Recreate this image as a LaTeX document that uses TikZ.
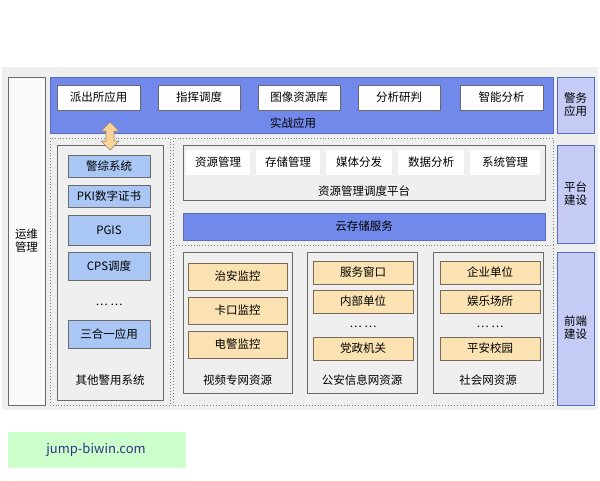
\documentclass[tikz,border=0pt]{standalone}
\usepackage{fontspec}
\setmainfont{Noto Sans CJK SC}
\definecolor{bgg}{HTML}{EFEFEF}
\definecolor{bandb}{HTML}{7089EA}
\definecolor{lpur}{HTML}{C5CBF5}
\definecolor{lblue}{HTML}{A9C6F5}
\definecolor{orf}{HTML}{FBE2B2}
\definecolor{orb}{HTML}{7A6A55}
\definecolor{grb}{HTML}{6A6A6A}
\tikzset{x=1pt,y=-1pt,
 bx/.style={draw=grb,line width=0.6pt},
 wbox/.style={bx,fill=white},
 blbox/.style={draw=grb,line width=0.6pt,fill=lblue},
 orbox/.style={draw=orb,line width=0.6pt,fill=orf},
 side/.style={draw=bandb!80!black,line width=0.6pt,fill=lpur},
 dotreg/.style={draw=gray,dotted,line width=0.9pt},
 t/.style={font=\fontsize{11.5}{13}\selectfont,inner sep=0pt}}
\newcommand{\bxn}[6]{\draw[#1] (#2,#3) rectangle (#4,#5); \node[t] at ({(#2+#4)/2},{(#3+#5)/2}) {#6};}
\begin{document}
\begin{tikzpicture}
\useasboundingbox (0,0) rectangle (600,480);
\fill[white] (0,0) rectangle (600,480);
\fill[bgg] (2,67) rectangle (598,410);
% ops
\draw[wbox,fill=white!70!bgg] (8,77) rectangle (45,405);
\node[t,align=center] (ops) at (26.5,241) {运维\\管理};
% top band
\draw[draw=bandb!80!black,fill=bandb,line width=0.6pt] (50,77) rectangle (553,133);
\bxn{wbox}{57}{85}{140}{110}{派出所应用}
\bxn{wbox}{158}{85}{240}{110}{指挥调度}
\bxn{wbox}{258}{85}{340}{110}{图像资源库}
\bxn{wbox}{358}{85}{440}{110}{分析研判}
\bxn{wbox}{460}{85}{543}{110}{智能分析}
\node[t] at (293,123) {实战应用};
% side
\draw[side] (557,77) rectangle (594,133);
\node[t,align=center] at (575.5,105) {警务\\应用};
\draw[side] (557,145) rectangle (594,243);
\node[t,align=center] at (575.5,194) {平台\\建设};
\draw[side] (557,252) rectangle (594,405);
\node[t,align=center] at (575.5,328) {前端\\建设};
% dotted regions
\draw[dotreg] (50,138) rectangle (170,405);
\draw[dotreg] (173,138) rectangle (553,245);
\draw[dotreg] (173,245) rectangle (553,405);
% other police
\draw[bx,fill=bgg] (57,145) rectangle (163,400);
\bxn{blbox}{68}{155}{150}{177}{警综系统}
\bxn{blbox}{68}{185}{150}{207}{PKI数字证书}
\bxn{blbox}{68}{215}{150}{245}{PGIS}
\bxn{blbox}{68}{252}{150}{280}{CPS调度}
\node[t] at (109,305) {… …};
\bxn{blbox}{68}{320}{150}{348}{三合一应用}
\node[t] at (110,380) {其他警用系统};
% arrow
\draw[draw=orb!80,fill=orf!85!orange,line width=0.7pt,line join=round]
 (110,122) -- (119,131) -- (114,131) -- (114,141) -- (119,141) -- (110,150) -- (101,141) -- (106,141) -- (106,131) -- (101,131) -- cycle;
% platform
\draw[bx,fill=bgg] (183,145) rectangle (545,200);
\foreach \a/\b/\s in {186/250/资源管理,256/320/存储管理,326/392/媒体分发,398/464/数据分析,470/540/系统管理}{
 \fill[white] (\a,150) rectangle (\b,175); \node[t] at ({(\a+\b)/2},162.5) {\s};}
\node[t] at (364,191) {资源管理调度平台};
\draw[draw=bandb!80!black,fill=bandb,line width=0.6pt] (183,213) rectangle (545,240);
\node[t] at (364,226.5) {云存储服务};
% front
\draw[bx,fill=bgg] (183,252) rectangle (292,393);
\draw[bx,fill=bgg] (307,252) rectangle (417,393);
\draw[bx,fill=bgg] (433,252) rectangle (543,393);
\bxn{orbox}{188}{263}{287}{290}{治安监控}
\bxn{orbox}{188}{297}{287}{324}{卡口监控}
\bxn{orbox}{188}{331}{287}{358}{电警监控}
\node[t] at (237.5,380) {视频专网资源};
\bxn{orbox}{313}{261}{413}{284}{服务窗口}
\bxn{orbox}{313}{290}{413}{313}{内部单位}
\node[t] at (363,327) {… …};
\bxn{orbox}{313}{337}{413}{360}{党政机关}
\node[t] at (362,380) {公安信息网资源};
\bxn{orbox}{440}{261}{540}{284}{企业单位}
\bxn{orbox}{440}{290}{540}{313}{娱乐场所}
\node[t] at (490,327) {… …};
\bxn{orbox}{440}{337}{540}{360}{平安校园}
\node[t] at (488,380) {社会网资源};
% watermark
\fill[green!20!white,draw=none] (8,432) rectangle (186,468);
\node[font=\fontsize{13}{15}\selectfont,text=blue!40!black!80,inner sep=0pt] (wm) at (96,450) {jump-biwin.com};
\end{tikzpicture}
\end{document}
